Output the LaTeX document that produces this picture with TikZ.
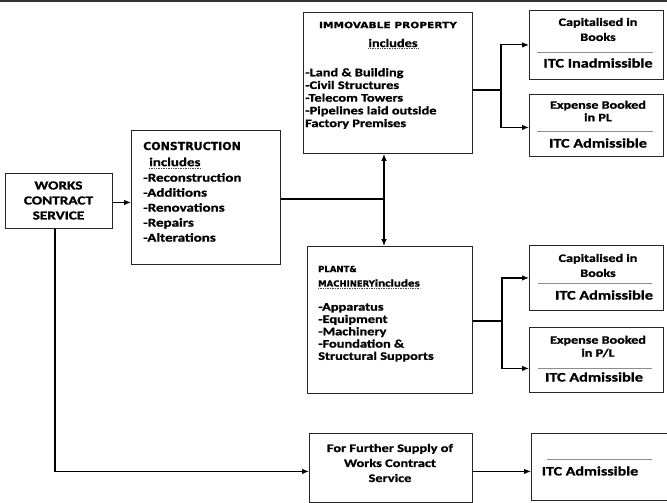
\documentclass[tikz,border=0pt]{standalone}
\usepackage{fontspec}
\setmainfont[FakeStretch=1.25, BoldFeatures={FakeBold=1.2}]{Carlito}
\newfontfamily\headfont[BoldFeatures={FakeBold=0.8}]{DejaVu Sans}
\usetikzlibrary{arrows.meta}

\newcommand{\fsz}[2]{\fontsize{#1}{#2}\selectfont}

\tikzset{
  box/.style={draw=black!85, line width=0.9pt, inner sep=0pt, anchor=north west},
  txt/.style={inner sep=0pt, align=left},
  ctxt/.style={inner sep=0pt, align=center},
  conn/.style={draw=black, line width=1.1pt},
  arr/.style={conn, -{Latex[length=7pt,width=5.5pt]}},
  darr/.style={conn, {Latex[length=7pt,width=5.5pt]}-{Latex[length=7pt,width=5.5pt]}},
  sep/.style={draw=black!45, line width=0.5pt},
  squiggle/.style={draw=black!70, line width=0.7pt, densely dotted},
}

\begin{document}
\begin{tikzpicture}[x=1pt,y=-1pt]
\useasboundingbox (0,0) rectangle (667,503);
% rule along the top edge
\draw[black!80, line width=1.2pt] (0,1) -- (667,1);

% ---- boxes
\node[box, minimum width=107, minimum height=55]  (wcs) at (5,173)   {};
\node[box, minimum width=149, minimum height=134] (con) at (131,130) {};
\node[box, minimum width=169, minimum height=141] (imm) at (303,12)  {};
\node[box, minimum width=165, minimum height=147] (pm)  at (307,246) {};
\node[box, minimum width=134, minimum height=69]  (c1)  at (529,10)  {};
\node[box, minimum width=134, minimum height=62]  (e1)  at (529,94)  {};
\node[box, minimum width=134, minimum height=65]  (c2)  at (529,245) {};
\node[box, minimum width=134, minimum height=65]  (e2)  at (529,327) {};
\node[box, minimum width=163, minimum height=69]  (fs)  at (309,433) {};
\node[box, minimum width=145, minimum height=67]  (itc) at (531,433) {};

% ---- separators inside the result boxes
\draw[sep] (537,52)  -- (653,52);
\draw[sep] (537,131) -- (653,131);
\draw[sep] (538,283) -- (652,283);
\draw[sep] (538,368) -- (652,368);
\draw[sep] (547,459) -- (652,459);

% ---- texts
\node[ctxt, font=\bfseries\fsz{12.2}{15}] (wcsT) at (58.5,200.5) {WORKS\\CONTRACT\\SERVICE};

\node[txt, anchor=west, font=\headfont\bfseries\fsz{11}{13}] (conT) at (143,146) {CONSTRUCTION};
\node[txt, anchor=west, font=\bfseries\fsz{12}{15}] (conI) at (149,162) {includes};
\draw[squiggle] ([yshift=-1.5pt]conI.south west) -- ([yshift=-1.5pt]conI.south east);
\node[txt, anchor=north west, font=\bfseries\fsz{12}{15}] (conL) at (143,173)
  {-Reconstruction\\-Additions\\-Renovations\\-Repairs\\-Alterations};

\node[ctxt, font=\headfont\bfseries\fsz{8.7}{10}] (immT) at (388,25) {\scalebox{1.22}[1]{IMMOVABLE PROPERTY}};
\node[ctxt, font=\bfseries\fsz{11.5}{13}] (immI) at (393,43) {includes};
\draw[squiggle] ([yshift=-1.5pt]immI.south west) -- ([yshift=-1.5pt]immI.south east);
\node[txt, anchor=north west, font=\bfseries\fsz{11.5}{12.7}] (immL) at (305,68)
  {-Land \& Building\\-Civil Structures\\-Telecom Towers\\-Pipelines laid outside\\Factory Premises};

\node[txt, anchor=west, font=\headfont\bfseries\fsz{8.5}{10}] (pmT) at (318,269) {PLANT\&};
\node[txt, anchor=west] (pmI) at (318,283) {{\headfont\bfseries\fsz{8.5}{10}MACHINERY}{\bfseries\fsz{10.5}{12}includes}};
\draw[squiggle] ([yshift=-1.5pt]pmI.south west) -- ([yshift=-1.5pt]pmI.south east);
\node[txt, anchor=north west, font=\bfseries\fsz{11.5}{12.3}] (pmL) at (318,303)
  {-Apparatus\\-Equipment\\-Machinery\\-Foundation \&\\Structural Supports};

\node[ctxt, font=\bfseries\fsz{11.3}{15}] (c1T) at (598,29.5) {Capitalised in\\Books};
\node[ctxt, font=\bfseries\fsz{13}{15}]   (c1R) at (598,63) {ITC Inadmissible};
\node[ctxt, font=\bfseries\fsz{11.3}{12.5}] (e1T) at (598,111) {Expense Booked\\in PL};
\node[ctxt, font=\bfseries\fsz{13}{15}]   (e1R) at (598,143) {ITC Admissible};
\node[ctxt, font=\bfseries\fsz{11.3}{15}] (c2T) at (598,265.5) {Capitalised in\\Books};
\node[ctxt, font=\bfseries\fsz{13}{15}]   (c2R) at (604,295) {ITC Admissible};
\node[ctxt, font=\bfseries\fsz{11.3}{13}] (e2T) at (598,346.5) {Expense Booked\\in P/L};
\node[ctxt, font=\bfseries\fsz{13}{15}]   (e2R) at (594,377) {ITC Admissible};

\node[ctxt, font=\bfseries\fsz{11.5}{15}] (fsT) at (390,463) {For Further Supply of\\Works Contract\\Service};
\node[ctxt, font=\bfseries\fsz{12.8}{15}] (itcR) at (590,471) {ITC Admissible};

% ---- connectors
\coordinate (j1) at (384,199);
\coordinate (b1) at (501,90);
\coordinate (b2) at (502,321);

\draw[arr] ([yshift=-1.5pt]wcs.east) -- ([yshift=-1.5pt]wcs.east -| con.west);
\draw[conn] (con.east |- j1) -- (j1);
\draw[darr] (imm.south -| j1) -- (pm.north -| j1);

\draw[conn] (imm.east |- b1) -- (b1);
\draw[arr] (b1) |- ([yshift=0pt]c1.west);
\draw[arr] (b1) |- ([yshift=-2pt]e1.west);

\draw[conn] (pm.east |- b2) -- (b2);
\draw[arr] (b2) |- ([yshift=0pt]c2.west);
\draw[arr] (b2) |- ([yshift=-8.5pt]e2.west);

\draw[arr] ([xshift=-4pt]wcs.south) |- ([yshift=-3.5pt]fs.west);
\draw[arr] ([yshift=-3.5pt]fs.east) -- ([yshift=-3.5pt]fs.east -| itc.west);
\end{tikzpicture}
\end{document}
